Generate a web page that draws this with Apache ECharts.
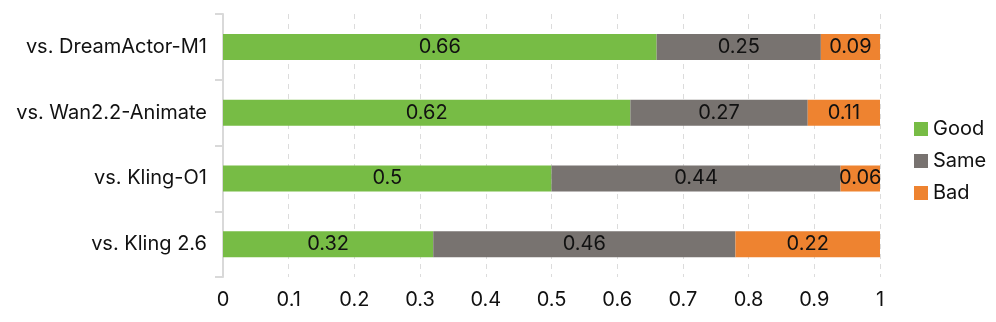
<!DOCTYPE html>
<html>
<head>
<meta charset="utf-8">
<script src="https://cdn.jsdelivr.net/npm/echarts@6/dist/echarts.min.js"></script>
<style>
  html, body { margin: 0; padding: 0; background: #fff; }
  #main { width: 996px; height: 322px; }
</style>
</head>
<body>
<div id="main"></div>
<script>
var categories = ['vs. DreamActor-M1', 'vs. Wan2.2-Animate', 'vs. Kling-O1', 'vs. Kling 2.6'];
var goodValues = [0.66, 0.62, 0.5, 0.32];
var sameValues = [0.25, 0.27, 0.44, 0.46];
var badValues = [0.09, 0.11, 0.06, 0.22];
var xTicks = [0, 0.1, 0.2, 0.3, 0.4, 0.5, 0.6, 0.7, 0.8, 0.9, 1];

var chart = echarts.init(document.getElementById('main'));

var font = 'Inter, "Noto Sans", sans-serif';

function makeSeries(name, data, color) {
  return {
    name: name,
    type: 'bar',
    stack: 'total',
    data: data,
    barWidth: 26,
    itemStyle: { color: color },
    label: {
      show: true,
      position: 'inside',
      color: '#111',
      fontSize: 20,
      fontFamily: font
    },
    emphasis: { disabled: true }
  };
}

var option = {
  animation: false,
  textStyle: { fontFamily: font },
  grid: { left: 223, right: 116, top: 14, bottom: 45 },
  legend: {
    orient: 'vertical',
    left: 909,
    top: 'middle',
    itemWidth: 14,
    itemHeight: 14,
    itemGap: 12,
    icon: 'rect',
    textStyle: { fontSize: 20, color: '#111', fontFamily: font },
    data: ['Good', 'Same', 'Bad']
  },
  xAxis: {
    type: 'value',
    min: 0,
    max: 1,
    interval: 0.1,
    axisLine: { show: false },
    axisTick: { show: false },
    axisLabel: {
      fontSize: 20,
      color: '#111',
      margin: 13,
      formatter: function (v) {
        var t = xTicks.find(function (x) { return Math.abs(x - v) < 1e-9; });
        return t === undefined ? '' : String(t);
      }
    },
    splitLine: { show: true, lineStyle: { type: [5, 5], color: '#dcdcdc', width: 1 } }
  },
  yAxis: {
    type: 'category',
    inverse: true,
    data: categories,
    axisLine: { show: true, lineStyle: { color: '#d9d9d9', width: 2 } },
    axisTick: { show: true, length: 8, lineStyle: { color: '#d9d9d9', width: 2 } },
    axisLabel: { fontSize: 20, color: '#111', margin: 16 }
  },
  series: [
    makeSeries('Good', goodValues, '#77bc45'),
    makeSeries('Same', sameValues, '#787370'),
    makeSeries('Bad', badValues, '#ee8330')
  ]
};

chart.setOption(option);
</script>
</body>
</html>
